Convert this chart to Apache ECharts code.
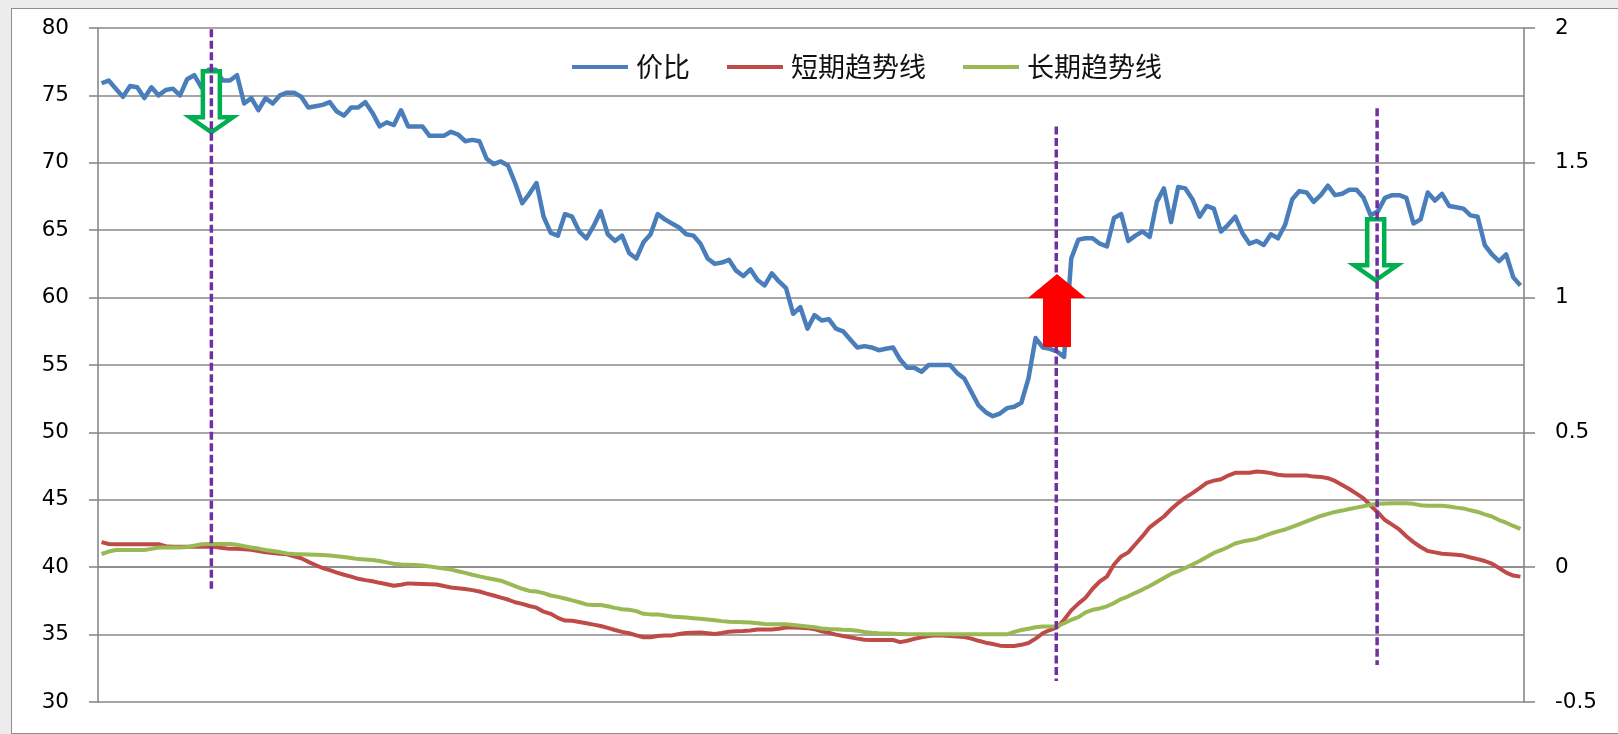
<!DOCTYPE html>
<html>
<head>
<meta charset="utf-8">
<script src="https://cdn.jsdelivr.net/npm/echarts@6/dist/echarts.min.js"></script>
<style>
  html, body { margin: 0; padding: 0; background: #ececec; overflow: hidden; }
  #frame { position: absolute; left: 11px; top: 8px; width: 1700px; height: 726px; box-sizing: border-box;
           background: #fff; border: 1.5px solid #8e8e8e; }
  #main { position: absolute; left: 0; top: 0; width: 1618px; height: 734px; }
</style>
</head>
<body>
<div id="frame"></div>
<div id="main"></div>
<script>
  // 价比 (左轴)
  var priceRatio = [
    75.9, 76.1, 75.5, 74.9, 75.7, 75.6, 74.8, 75.6, 75.0, 75.4,
    75.5, 75.0, 76.2, 76.5, 75.6, 76.9, 76.9, 76.1, 76.1, 76.5,
    74.4, 74.8, 73.9, 74.8, 74.4, 75.0, 75.2, 75.2, 74.9, 74.1,
    74.2, 74.3, 74.5, 73.8, 73.5, 74.1, 74.1, 74.5, 73.7, 72.7,
    73.0, 72.8, 73.9, 72.7, 72.7, 72.7, 72.0, 72.0, 72.0, 72.3,
    72.1, 71.6, 71.7, 71.6, 70.3, 69.9, 70.1, 69.8, 68.5, 67.0,
    67.7, 68.5, 66.0, 64.8, 64.6, 66.2, 66.0, 64.9, 64.4, 65.3,
    66.4, 64.7, 64.2, 64.6, 63.3, 62.9, 64.1, 64.7, 66.2, 65.8,
    65.5, 65.2, 64.7, 64.6, 64.0, 62.9, 62.5, 62.6, 62.8, 62.0,
    61.6, 62.1, 61.3, 60.9, 61.8, 61.2, 60.7, 58.8, 59.3, 57.7,
    58.7, 58.3, 58.4, 57.7, 57.5, 56.9, 56.3, 56.4, 56.3, 56.1,
    56.2, 56.3, 55.4, 54.8, 54.8, 54.5, 55.0, 55.0, 55.0, 55.0,
    54.4, 54.0, 53.0, 52.0, 51.5, 51.2, 51.4, 51.8, 51.9, 52.2,
    54.0, 57.0, 56.3, 56.2, 56.0, 55.6, 62.9, 64.3, 64.4, 64.4,
    64.0, 63.8, 65.9, 66.2, 64.2, 64.6, 64.9, 64.5, 67.1, 68.1,
    65.6, 68.2, 68.1, 67.3, 66.0, 66.8, 66.6, 64.9, 65.4, 66.0,
    64.8, 64.0, 64.2, 63.9, 64.7, 64.4, 65.4, 67.3, 67.9, 67.8,
    67.1, 67.6, 68.3, 67.6, 67.7, 68.0, 68.0, 67.4, 66.1, 66.4,
    67.4, 67.6, 67.6, 67.4, 65.5, 65.8, 67.8, 67.2, 67.7, 66.8,
    66.7, 66.6, 66.1, 66.0, 63.9, 63.2, 62.7, 63.2, 61.5, 60.9
  ];
  // 短期趋势线 (右轴)
  var shortTrend = [
    0.093, 0.086, 0.085, 0.085, 0.085, 0.085, 0.085, 0.085, 0.085, 0.078,
    0.076, 0.076, 0.076, 0.076, 0.076, 0.076, 0.075, 0.071, 0.068, 0.068,
    0.067, 0.065, 0.060, 0.055, 0.053, 0.050, 0.048, 0.040, 0.033, 0.020,
    0.008, -0.003, -0.011, -0.020, -0.028, -0.035, -0.043, -0.048, -0.052, -0.058,
    -0.063, -0.069, -0.065, -0.060, -0.061, -0.062, -0.063, -0.064, -0.070, -0.075,
    -0.078, -0.081, -0.085, -0.090, -0.098, -0.105, -0.113, -0.120, -0.130, -0.136,
    -0.144, -0.150, -0.165, -0.173, -0.188, -0.198, -0.199, -0.203, -0.208, -0.213,
    -0.218, -0.225, -0.233, -0.240, -0.245, -0.253, -0.260, -0.260, -0.255, -0.253,
    -0.253, -0.248, -0.244, -0.243, -0.242, -0.245, -0.248, -0.244, -0.239, -0.238,
    -0.237, -0.235, -0.231, -0.231, -0.231, -0.228, -0.224, -0.224, -0.225, -0.226,
    -0.230, -0.238, -0.243, -0.250, -0.255, -0.260, -0.265, -0.269, -0.270, -0.270,
    -0.270, -0.270, -0.278, -0.273, -0.266, -0.260, -0.255, -0.252, -0.253, -0.255,
    -0.257, -0.259, -0.265, -0.273, -0.280, -0.285, -0.291, -0.292, -0.292, -0.288,
    -0.281, -0.265, -0.245, -0.233, -0.223, -0.195, -0.160, -0.135, -0.113, -0.080,
    -0.053, -0.035, 0.010, 0.040, 0.055, 0.085, 0.115, 0.148, 0.168, 0.188,
    0.215, 0.238, 0.258, 0.275, 0.293, 0.313, 0.321, 0.326, 0.340, 0.350,
    0.350, 0.350, 0.355, 0.353, 0.349, 0.343, 0.340, 0.340, 0.340, 0.340,
    0.336, 0.335, 0.330, 0.320, 0.305, 0.290, 0.273, 0.255, 0.228, 0.203,
    0.175, 0.158, 0.140, 0.115, 0.093, 0.075, 0.060, 0.055, 0.050, 0.048,
    0.046, 0.043, 0.036, 0.030, 0.023, 0.013, -0.003, -0.020, -0.031, -0.035
  ];
  // 长期趋势线 (右轴)
  var longTrend = [
    0.049, 0.058, 0.064, 0.064, 0.064, 0.064, 0.064, 0.068, 0.073, 0.073,
    0.073, 0.073, 0.075, 0.080, 0.085, 0.086, 0.086, 0.086, 0.086, 0.083,
    0.078, 0.073, 0.069, 0.064, 0.060, 0.056, 0.051, 0.049, 0.048, 0.047,
    0.046, 0.045, 0.043, 0.041, 0.038, 0.034, 0.030, 0.029, 0.027, 0.023,
    0.018, 0.013, 0.010, 0.009, 0.008, 0.006, 0.003, -0.001, -0.005, -0.009,
    -0.015, -0.021, -0.028, -0.034, -0.040, -0.045, -0.050, -0.060, -0.070, -0.080,
    -0.088, -0.090, -0.096, -0.105, -0.110, -0.116, -0.123, -0.130, -0.138, -0.140,
    -0.140, -0.145, -0.151, -0.156, -0.158, -0.163, -0.173, -0.175, -0.175, -0.179,
    -0.183, -0.185, -0.187, -0.189, -0.191, -0.194, -0.197, -0.200, -0.202, -0.203,
    -0.204, -0.205, -0.208, -0.211, -0.212, -0.212, -0.212, -0.214, -0.217, -0.220,
    -0.223, -0.227, -0.229, -0.230, -0.232, -0.233, -0.236, -0.240, -0.243, -0.245,
    -0.246, -0.247, -0.248, -0.249, -0.249, -0.249, -0.249, -0.249, -0.249, -0.249,
    -0.249, -0.249, -0.249, -0.249, -0.249, -0.249, -0.249, -0.249, -0.240, -0.233,
    -0.228, -0.223, -0.220, -0.220, -0.219, -0.208, -0.195, -0.185, -0.168, -0.158,
    -0.153, -0.145, -0.133, -0.118, -0.108, -0.095, -0.083, -0.070, -0.055, -0.040,
    -0.025, -0.015, -0.003, 0.010, 0.023, 0.038, 0.053, 0.063, 0.075, 0.088,
    0.095, 0.100, 0.105, 0.115, 0.125, 0.133, 0.140, 0.150, 0.160, 0.170,
    0.180, 0.190, 0.198, 0.205, 0.210, 0.216, 0.221, 0.226, 0.232, 0.235,
    0.236, 0.237, 0.237, 0.237, 0.235, 0.230, 0.228, 0.228, 0.228, 0.225,
    0.221, 0.218, 0.211, 0.205, 0.196, 0.188, 0.175, 0.165, 0.153, 0.142
  ];
  var weeks = priceRatio.map(function (v, i) { return String(i + 1); });

  // 信号标注 (索引, 左轴数值)
  var signalLines = [
    { idx: 15.4, top: 79.9, bottom: 38.4 },
    { idx: 133.9, top: 72.7, bottom: 31.55 },
    { idx: 178.9, top: 74.05, bottom: 32.75 }
  ];
  var sellArrows = [ { idx: 15.4, tip: 72.26 }, { idx: 178.7, tip: 61.28 } ];  // 绿色空心向下
  var buyArrows = [ { idx: 134.0, tip: 61.75 } ];                             // 红色实心向上

  var axisGrey = '#888888';
  var numFont = { fontFamily: 'DejaVu Sans', fontSize: 21.5, color: '#000' };

  var chart = echarts.init(document.getElementById('main'));
  chart.setOption({
    animation: false,
    grid: { left: 98, right: 94, top: 28, bottom: 32, containLabel: false, outerBoundsMode: 'none' },
    legend: {
      left: 567, top: 47,
      icon: 'rect', itemWidth: 56, itemHeight: 4, itemGap: 37,
      textStyle: { fontFamily: 'Noto Sans CJK SC', fontSize: 27, lineHeight: 30, color: '#111', padding: [0, 0, 0, 3] },
      data: ['价比', '短期趋势线', '长期趋势线']
    },
    xAxis: {
      type: 'category', data: weeks, boundaryGap: true,
      axisLine: { lineStyle: { color: axisGrey, width: 1.6 } },
      axisTick: { show: false }, axisLabel: { show: false }, splitLine: { show: false }
    },
    yAxis: [
      {
        type: 'value', min: 30, max: 80, interval: 5, position: 'left',
        axisLine: { show: true, lineStyle: { color: axisGrey, width: 1.6 } },
        axisTick: { show: true, inside: false, length: 9, lineStyle: { color: axisGrey, width: 1.6 } },
        axisLabel: Object.assign({ margin: 29 }, numFont),
        splitLine: { show: true, lineStyle: { color: axisGrey, width: 1.6 } }
      },
      {
        type: 'value', min: -0.5, max: 2, interval: 0.5, position: 'right',
        axisLine: { show: true, lineStyle: { color: axisGrey, width: 1.6 } },
        axisTick: { show: true, inside: false, length: 11, lineStyle: { color: axisGrey, width: 1.6 } },
        axisLabel: Object.assign({ margin: 31 }, numFont),
        splitLine: { show: false }
      }
    ],
    series: [
      { name: '价比', type: 'line', yAxisIndex: 0, data: priceRatio, symbol: 'none',
        color: '#4a7ebb', lineStyle: { color: '#4a7ebb', width: 4.5, join: 'round' } },
      { name: '短期趋势线', type: 'line', yAxisIndex: 1, data: shortTrend, symbol: 'none',
        color: '#be4b48', lineStyle: { color: '#be4b48', width: 4 } },
      { name: '长期趋势线', type: 'line', yAxisIndex: 1, data: longTrend, symbol: 'none',
        color: '#98b954', lineStyle: { color: '#98b954', width: 4 } }
    ]
  });

  // 小数索引 -> 像素 (在相邻类目之间插值)
  function toPx(idx, val) {
    var i0 = Math.floor(idx), f = idx - i0;
    var p0 = chart.convertToPixel({ xAxisIndex: 0, yAxisIndex: 0 }, [i0, val]);
    if (f === 0) return p0;
    var p1 = chart.convertToPixel({ xAxisIndex: 0, yAxisIndex: 0 }, [i0 + 1, val]);
    return [p0[0] + (p1[0] - p0[0]) * f, p0[1]];
  }

  var graphics = [];
  sellArrows.forEach(function (a) {
    var p = toPx(a.idx, a.tip), x = p[0], y = p[1];
    graphics.push({
      type: 'polygon', z: 10,
      shape: { points: [[x - 8.5, y - 61], [x + 8.5, y - 61], [x + 8.5, y - 15], [x + 21.5, y - 15], [x, y], [x - 21.5, y - 15], [x - 8.5, y - 15]] },
      style: { fill: '#fff', stroke: '#00b050', lineWidth: 4.5, lineJoin: 'miter' }
    });
  });
  signalLines.forEach(function (s) {
    var a = toPx(s.idx, s.top), b = toPx(s.idx, s.bottom);
    graphics.push({
      type: 'line', z: 11,
      shape: { x1: a[0], y1: a[1], x2: b[0], y2: b[1] },
      style: { stroke: '#7030a0', lineWidth: 3.5, lineDash: [8, 3.5] }
    });
  });
  buyArrows.forEach(function (a) {
    var p = toPx(a.idx, a.tip), x = p[0], y = p[1];
    graphics.push({
      type: 'polygon', z: 12,
      shape: { points: [[x, y], [x + 29, y + 24], [x + 14, y + 24], [x + 14, y + 73], [x - 14, y + 73], [x - 14, y + 24], [x - 29, y + 24]] },
      style: { fill: '#ff0000' }
    });
  });
  chart.setOption({ graphic: graphics });
</script>
</body>
</html>
